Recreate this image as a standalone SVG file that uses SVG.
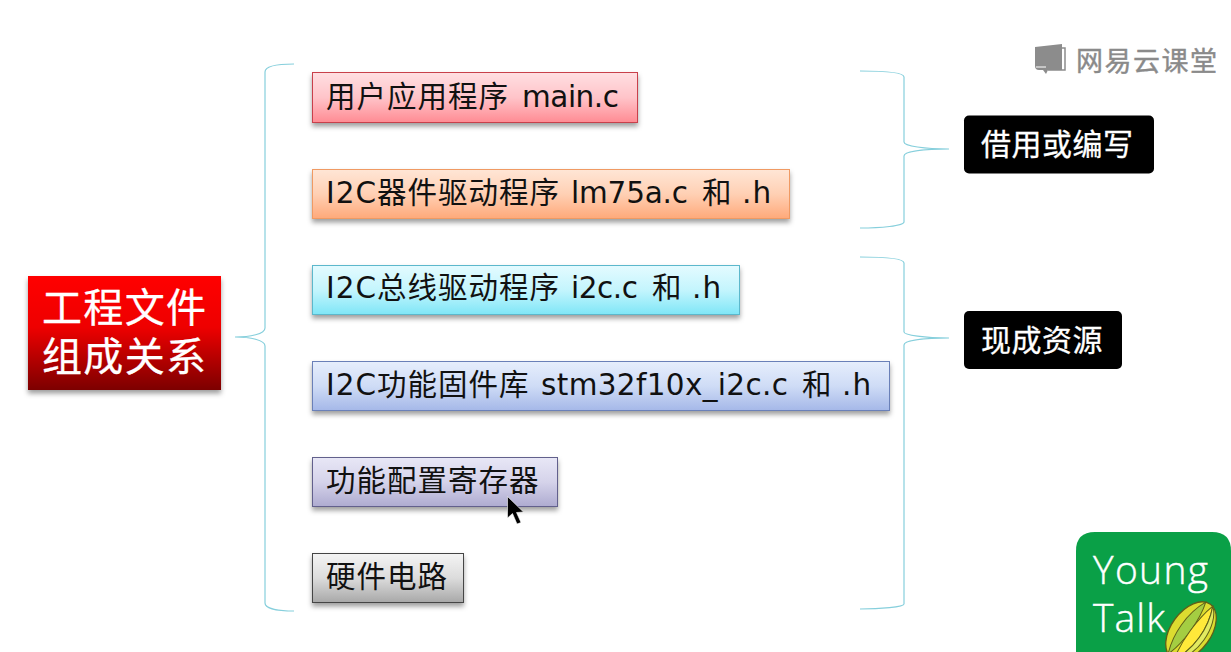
<svg xmlns="http://www.w3.org/2000/svg" width="1231" height="652" viewBox="0 0 1231 652">
<style>
text{font-family:"DejaVu Sans","Noto Sans CJK SC",sans-serif}
.l{font-size:29.500px;fill:#111;letter-spacing:1px}
.b{font-size:30px;fill:#fff;letter-spacing:.5px;stroke:#fff;stroke-width:.3}
.t{font-size:40px;fill:#fff;stroke:#fff;stroke-width:.3}
.n{stroke-width:1}
.br{fill:none;stroke:#86cfdc;stroke-width:1.200}
.wm{font-size:27px;fill:#8a8a8a;stroke:#8a8a8a;stroke-width:.4}
.yt{font-size:39px;fill:#fff;stroke:#fff;stroke-width:.4;font-family:"Open Sans","DejaVu Sans",sans-serif;font-weight:300}
</style>
<defs>
<filter id="sh" x="-5%" y="-20%" width="110%" height="150%"><feDropShadow dx="0" dy="3.500" stdDeviation="2.500" flood-color="#000" flood-opacity=".38"/></filter>
<linearGradient id="gr" x1="0" y1="0" x2="0" y2="1"><stop offset="0" stop-color="#ff0000"/><stop offset=".45" stop-color="#ee0000"/><stop offset="1" stop-color="#7c0000"/></linearGradient>
<linearGradient id="g1" x1="0" y1="0" x2="0" y2="1"><stop offset="0" stop-color="#ffdfe2"/><stop offset=".5" stop-color="#ffc4c9"/><stop offset="1" stop-color="#ff8b93"/></linearGradient>
<linearGradient id="g2" x1="0" y1="0" x2="0" y2="1"><stop offset="0" stop-color="#ffe6d6"/><stop offset=".5" stop-color="#ffd0b4"/><stop offset="1" stop-color="#ffa97a"/></linearGradient>
<linearGradient id="g3" x1="0" y1="0" x2="0" y2="1"><stop offset="0" stop-color="#e4fbff"/><stop offset=".5" stop-color="#c4f5fd"/><stop offset="1" stop-color="#7fe6f7"/></linearGradient>
<linearGradient id="g4" x1="0" y1="0" x2="0" y2="1"><stop offset="0" stop-color="#e6eefc"/><stop offset=".5" stop-color="#cfdcf6"/><stop offset="1" stop-color="#a5b8e8"/></linearGradient>
<linearGradient id="g5" x1="0" y1="0" x2="0" y2="1"><stop offset="0" stop-color="#e8e7f6"/><stop offset=".5" stop-color="#d5d3ea"/><stop offset="1" stop-color="#aeabd0"/></linearGradient>
<linearGradient id="g6" x1="0" y1="0" x2="0" y2="1"><stop offset="0" stop-color="#f4f4f4"/><stop offset=".5" stop-color="#dcdcdc"/><stop offset="1" stop-color="#a8a8a8"/></linearGradient>
</defs>
<g id="connectors">
<path class="br" d="M294 64C280 64 265 65 265 72V328C265 334 250 337 235 337C250 337 265 340 265 346V603C265 609 280 611 294 611"/>
<path class="br" d="M860 71C880 71 904 72 904 77V142C904 146 925 149 949 149C925 149 904 151 904 156V222C904 226 880 228 860 228"/>
<path class="br" d="M860 257C880 257 904 258 904 263V332C904 335 925 338 949 338C925 338 904 340 904 345V604C904 607 880 609 860 609"/>
</g>
<g id="root"><rect x="28" y="276" width="193" height="114" fill="url(#gr)" filter="url(#sh)"/>
<text class="t"><tspan x="42" y="322" textLength="164">工程文件</tspan><tspan x="42" y="371" textLength="164">组成关系</tspan></text></g>
<g id="n1"><rect class="n" x="312.500" y="72.500" width="325" height="50" fill="url(#g1)" stroke="#c8404c" filter="url(#sh)"/>
<text class="l" y="107"><tspan x="326">用户应用程序</tspan> <tspan x="522" textLength="98">main.c</tspan></text></g>
<g id="n2"><rect class="n" x="312.500" y="169.500" width="477" height="49" fill="url(#g2)" stroke="#f09a64" filter="url(#sh)"/>
<text class="l" y="203"><tspan x="326">I2C器件驱动程序</tspan> <tspan x="571" textLength="118">lm75a.c</tspan> <tspan x="702">和</tspan> <tspan x="742">.h</tspan></text></g>
<g id="n3"><rect class="n" x="312.500" y="265.500" width="427" height="49" fill="url(#g3)" stroke="#5cb8cc" filter="url(#sh)"/>
<text class="l" y="298"><tspan x="326">I2C总线驱动程序</tspan> <tspan x="571" textLength="68">i2c.c</tspan> <tspan x="652">和</tspan> <tspan x="692">.h</tspan></text></g>
<g id="n4"><rect class="n" x="312.500" y="361.500" width="577" height="49" fill="url(#g4)" stroke="#6a80b8" filter="url(#sh)"/>
<text class="l" y="395"><tspan x="326">I2C功能固件库</tspan> <tspan x="541" textLength="248">stm32f10x_i2c.c</tspan> <tspan x="802">和</tspan> <tspan x="842">.h</tspan></text></g>
<g id="n5"><rect class="n" x="312.500" y="457.500" width="245" height="49" fill="url(#g5)" stroke="#62608c" filter="url(#sh)"/>
<text class="l" x="326" y="491">功能配置寄存器</text></g>
<g id="n6"><rect class="n" x="312.500" y="553.500" width="151" height="49" fill="url(#g6)" stroke="#444" filter="url(#sh)"/>
<text class="l" x="326" y="587">硬件电路</text></g>
<g id="lab1"><rect x="964" y="115.500" width="190" height="58" rx="5" fill="#000"/><text class="b" x="981" y="155">借用或编写</text></g>
<g id="lab2"><rect x="964" y="311" width="158" height="58" rx="5" fill="#000"/><text class="b" x="981" y="351">现成资源</text></g>
<g id="cursor"><path d="M507.500 496.500V518L512.500 513.500L517 524L521 522.500L516.500 512.500L523.500 512Z" fill="#000" stroke="#fff" stroke-width=".6"/></g>
<g id="watermark"><path d="M1035 47L1062 44V70H1048L1046 74L1043 70H1039Q1035 70 1035 66Z" fill="#8c8c8c"/><path d="M1062 48H1065V70H1048" fill="none" stroke="#8c8c8c" stroke-width="1.500"/><path d="M1036 67H1046" stroke="#fff" stroke-width="1"/>
<text class="wm" x="1076" y="71" textLength="141">网易云课堂</text></g>
<g id="logo"><path d="M1231 652H1076V551Q1076 532 1095 532H1212Q1231 532 1231 551Z" fill="#0aa047"/>
<text class="yt"><tspan x="1093" y="584" textLength="115">Young</tspan><tspan x="1093" y="632" textLength="72">Talk</tspan></text>
<g transform="translate(1191 631) rotate(36)"><ellipse rx="20" ry="33" fill="#dcdc30" stroke="#5f5f18" stroke-width="1.300"/><path d="M-5 -32C-14 -12 -13 14 -5 32C1 14 1 -14 -5 -32Z" fill="#a4cd42" stroke="#5f5f18"/><path d="M3 -33C13 -12 13 14 3 33C-2 14 -2 -14 3 -33Z" fill="#ffe93a" stroke="#5f5f18"/><path d="M3 -33C13 -12 13 14 3 33C20 20 20 -20 3 -33Z" fill="#e2ea60" stroke="#5f5f18"/></g></g>
</svg>
